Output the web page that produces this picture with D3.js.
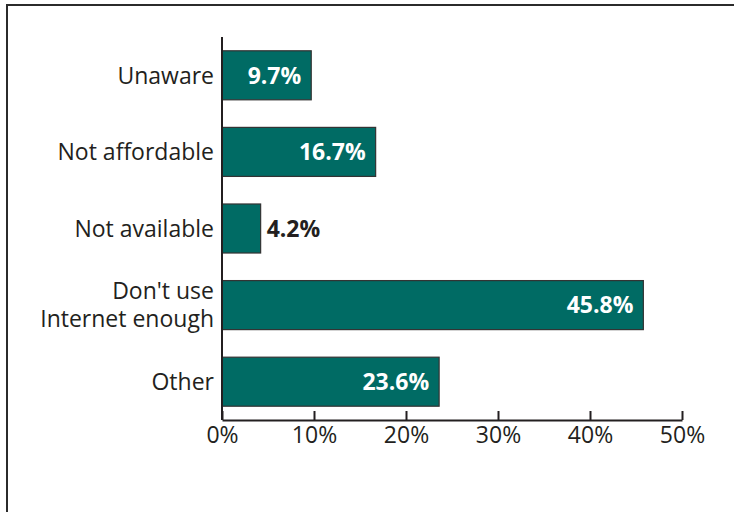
<!DOCTYPE html>
<html>
<head>
<meta charset="utf-8">
<script src="https://cdn.jsdelivr.net/npm/d3@7"></script>
<style>
  html, body { margin: 0; padding: 0; background: #fff; }
  svg { display: block; font-family: "Open Sans", "Noto Sans", sans-serif; }
</style>
</head>
<body>
<svg id="chart" width="734" height="512"></svg>
<script>
// Reasons given, top to bottom, with the share of respondents (%)
const categories = ["Unaware", "Not affordable", "Not available", "Don't use\nInternet enough", "Other"];
const values = [9.7, 16.7, 4.2, 45.8, 23.6];
const tickValues = [0, 10, 20, 30, 40, 50];

const svg = d3.select("#chart");
const barColor = "#006b64";
const ink = "#231f20";

// Frame: top rule and left rule
svg.append("line").attr("x1", 7).attr("x2", 734).attr("y1", 5).attr("y2", 5)
  .attr("stroke", "#2b2b2b").attr("stroke-width", 2);
svg.append("line").attr("x1", 7).attr("x2", 7).attr("y1", 4).attr("y2", 512)
  .attr("stroke", "#2b2b2b").attr("stroke-width", 2);

const x = d3.scaleLinear().domain([0, 50]).range([222, 682]);
const y = d3.scaleBand().domain(categories).range([37, 420]).paddingInner(0.36).paddingOuter(0.18);

// Bars
svg.append("g").selectAll("rect").data(values).join("rect")
  .attr("x", x(0))
  .attr("y", (d, i) => y(categories[i]))
  .attr("width", d => x(d) - x(0))
  .attr("height", y.bandwidth())
  .attr("fill", barColor)
  .attr("stroke", "#333")
  .attr("stroke-width", 1.2);

// Value labels: inside the bar in white, or just outside in black when the bar is short
const inside = d => x(d) - x(0) > 60;
svg.append("g").selectAll("text").data(values).join("text")
  .attr("x", d => inside(d) ? x(d) - 10 : x(d) + 6)
  .attr("y", (d, i) => y(categories[i]) + y.bandwidth() / 2)
  .attr("dy", "0.36em")
  .attr("text-anchor", d => inside(d) ? "end" : "start")
  .attr("fill", d => inside(d) ? "#fff" : ink)
  .attr("font-weight", "bold")
  .attr("font-size", 23)
  .text(d => d.toFixed(1) + "%");

// Category labels (right-aligned, multi-line where needed)
const catG = svg.append("g");
categories.forEach(c => {
  const lines = c.split("\n");
  const cy = y(c) + y.bandwidth() / 2;
  const lh = 28;
  const t = catG.append("text")
    .attr("text-anchor", "end")
    .attr("font-size", 23)
    .attr("fill", ink);
  lines.forEach((ln, k) => {
    t.append("tspan")
      .attr("x", 214)
      .attr("y", cy + (k - (lines.length - 1) / 2) * lh)
      .attr("dy", "0.36em")
      .text(ln);
  });
});

// Vertical axis line
svg.append("line").attr("x1", x(0)).attr("x2", x(0)).attr("y1", 37).attr("y2", 420)
  .attr("stroke", ink).attr("stroke-width", 2);

// Horizontal axis with ticks pointing up
const xAxis = d3.axisBottom(x).tickValues(tickValues).tickFormat(d => d + "%")
  .tickSizeInner(-9).tickSizeOuter(0).tickPadding(7);
const ax = svg.append("g").attr("transform", "translate(0,420)").call(xAxis);
ax.select(".domain").attr("stroke", ink).attr("stroke-width", 2);
ax.selectAll(".tick line").attr("stroke", ink).attr("stroke-width", 2);
ax.selectAll(".tick text").attr("font-size", 23).attr("fill", ink)
  .attr("font-family", "'Open Sans', 'Noto Sans', sans-serif");
</script>
</body>
</html>
